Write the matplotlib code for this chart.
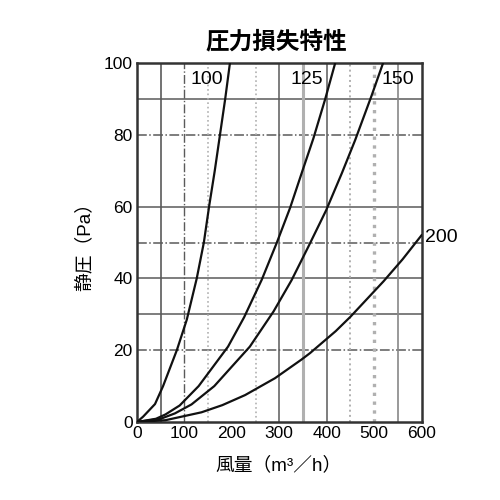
import matplotlib
matplotlib.use("Agg")
import matplotlib.pyplot as plt

plt.rcParams["font.family"] = ["Liberation Sans", "Noto Sans CJK JP"]

# air volume (m3/h) vs static pressure (Pa)
flow_100 = [0, 13, 38, 55, 84, 105, 126, 141, 152, 164, 175, 186, 196]
pres_100 = [0, 1.5, 5, 10, 20, 28.5, 40, 50, 60, 70, 80, 90, 100]

flow_125 = [0, 40, 60, 90, 130, 192, 226, 263, 295, 323, 349, 372, 397, 418]
pres_125 = [0, 0.9, 2.1, 4.6, 10, 21, 29.2, 39.6, 50, 59.7, 70, 79, 90, 100]

flow_150 = [0, 50, 80, 115, 163, 238, 288, 326, 362, 399, 432, 460, 495, 519]
pres_150 = [0, 0.9, 2.4, 4.9, 10, 21, 30.8, 39.5, 49, 59, 69.3, 78.5, 91, 100]

flow_200 = [0, 60, 136, 180, 228, 291, 347, 365, 419, 450, 520, 560, 600]
pres_200 = [0, 0.5, 2.7, 4.7, 7.5, 12.2, 17.4, 19.2, 25.3, 29.3, 39.2, 45.3, 52]

curves = [
    (flow_100, pres_100, "100", 148, 95.5, "center"),
    (flow_125, pres_125, "125", 358, 95.5, "center"),
    (flow_150, pres_150, "150", 551, 95.5, "center"),
    (flow_200, pres_200, "200", 608, 51.5, "left"),
]

x_ticks = [0, 100, 200, 300, 400, 500, 600]
y_ticks = [0, 20, 40, 60, 80, 100]

fig = plt.figure(figsize=(5, 5), dpi=100)
ax = fig.add_axes([0.274, 0.156, 0.569, 0.718])

# grid as printed in the catalogue scan
dark = "#5a5a5a"
light = "#b0b0b0"
for y, ls in [(20, "-."), (30, "-"), (40, "-"), (50, "-."), (60, "-"), (80, "-."), (90, "-")]:
    ax.axhline(y, color=dark, lw=1.1, ls=ls, zorder=1)
for x, ls, c, w in [
    (50, "-", dark, 1.2),
    (100, "-.", dark, 1.0),
    (150, ":", light, 1.2),
    (250, ":", light, 1.2),
    (300, "-", dark, 1.1),
    (350, "-", light, 2.2),
    (400, "-", dark, 1.1),
    (450, ":", light, 1.4),
    (500, ":", light, 2.4),
    (550, "-", "#888888", 1.2),
]:
    ax.axvline(x, color=c, lw=w, ls=ls, zorder=1)

for flow, pres, name, lx, ly, ha in curves:
    ax.plot(flow, pres, color="#111111", lw=1.6, zorder=3)
    ax.text(lx, ly, name, fontsize=14, ha=ha, va="center", zorder=4,
            clip_on=False)

ax.set_xlim(0, 600)
ax.set_ylim(0, 100)
ax.set_xticks(x_ticks)
ax.set_yticks(y_ticks)
ax.tick_params(labelsize=12.5, length=0, pad=3)
for s in ax.spines.values():
    s.set_linewidth(1.8)
    s.set_color("#333333")

fig.text(0.552, 1 - 42 / 500, "圧力損失特性", fontsize=17, fontweight="bold",
         ha="center", va="center")
fig.text(0.558, 1 - 465 / 500, "風量（m³／h）", fontsize=13.5,
         ha="center", va="center")
fig.text(0.17, 1 - 242 / 500, "静圧（Pa）", fontsize=13.5, rotation=90,
         ha="center", va="center")

fig.savefig("out.png", dpi=100)
